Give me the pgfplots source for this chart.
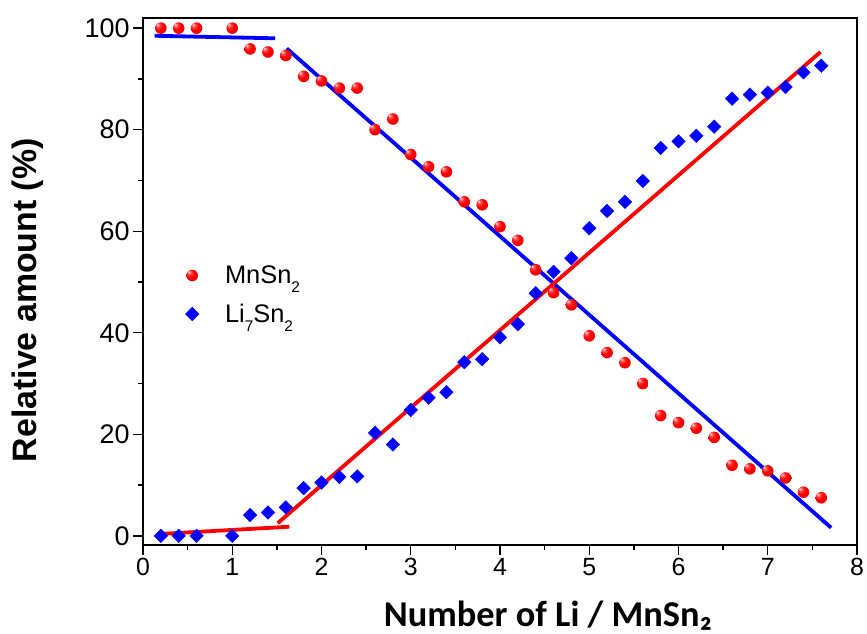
\documentclass[border=0pt]{standalone}
\usepackage{fontspec}
\setmainfont{Liberation Sans}
\newfontfamily\carlito{Carlito}
\usepackage{pgfplots}
\pgfplotsset{compat=1.18}
\newcommand\sub[1]{\raisebox{-8.5bp}{\fontsize{15.5}{15.5}\selectfont #1}}
\pgfdeclareradialshading{redball}{\pgfpoint{-16bp}{16bp}}{%
  color(0bp)=(red!10!white); color(8bp)=(red!70!white); color(18bp)=(red);
  color(42bp)=(red!92!black); color(50bp)=(red!80!black)}
\pgfdeclareplotmark{redsphere}{%
  \pgfpathcircle{\pgfpointorigin}{\pgfplotmarksize}%
  \pgfshadepath{redball}{0}%
  \pgfusepath{discard}}
\begin{document}
\begin{tikzpicture}
\useasboundingbox (-143bp,-89bp) rectangle (724bp,545bp);
\begin{axis}[
  at={(0,0)}, anchor=south west,
  width=714bp, height=527bp, scale only axis,
  xmin=0, xmax=8, ymin=-1.8, ymax=102,
  xtick={0,1,...,8}, ytick={0,20,...,100},
  minor tick num=1,
  tick align=outside, tick pos=left,
  major tick length=10bp, minor tick length=5bp,
  axis line style={line width=1.6bp},
  every tick/.style={black, line width=1.4bp},
  /pgf/number format/assume math mode=true,
  xticklabel style={font=\fontsize{25}{25}\selectfont},
  yticklabel style={font=\fontsize{27}{27}\selectfont},
  xlabel={\carlito\bfseries Number of Li / MnSn₂},
  ylabel={\bfseries Relative amount (\%)},
  xlabel style={font=\fontsize{36.5}{36.5}\selectfont, at={(axis description cs:0.567,-0.154)}, anchor=base},
  ylabel style={font=\fontsize{34}{34}\selectfont, at={(axis description cs:-0.1485,0.4645)}, anchor=base, rotate=0},
  legend style={at={(axis cs:0.44,54.0)}, anchor=north west, draw=none, fill=none,
    row sep=15bp, column sep=24bp},
  legend cell align=left,
  clip=false,
]
\addplot[only marks, mark=redsphere, mark size=5.8bp] coordinates {
(0.2,100) (0.4,100) (0.6,100) (1.0,100) (1.2,95.9) (1.4,95.3) (1.6,94.6) (1.8,90.5)
(2.0,89.6) (2.2,88.2) (2.4,88.2) (2.6,80.0) (2.8,82.1) (3.0,75.1) (3.2,72.7) (3.4,71.7)
(3.6,65.8) (3.8,65.2) (4.0,60.9) (4.2,58.2) (4.4,52.4) (4.6,47.9) (4.8,45.5) (5.0,39.4)
(5.2,36.1) (5.4,34.1) (5.6,30.0) (5.8,23.7) (6.0,22.3) (6.2,21.2) (6.4,19.4) (6.6,13.9)
(6.8,13.2) (7.0,12.8) (7.2,11.4) (7.4,8.6) (7.6,7.5)
};
\addlegendentry{\fontsize{25.5}{25.5}\selectfont MnSn\sub{2}}
\addplot[only marks, mark=square*, mark size=4.8bp, color=blue, mark options={fill=blue, draw=blue, rotate=45}] coordinates {
(0.2,0) (0.4,0) (0.6,0) (1.0,0) (1.2,4.1) (1.4,4.6) (1.6,5.6) (1.8,9.4)
(2.0,10.5) (2.2,11.6) (2.4,11.7) (2.6,20.3) (2.8,18.0) (3.0,24.8) (3.2,27.2) (3.4,28.3)
(3.6,34.2) (3.8,34.8) (4.0,39.1) (4.2,41.7) (4.4,47.8) (4.6,52.0) (4.8,54.7) (5.0,60.6)
(5.2,64.0) (5.4,65.8) (5.6,69.9) (5.8,76.4) (6.0,77.7) (6.2,78.8) (6.4,80.6) (6.6,86.1)
(6.8,86.9) (7.0,87.3) (7.2,88.4) (7.4,91.3) (7.6,92.6)
};
\addlegendentry{\fontsize{25.5}{25.5}\selectfont Li\sub{7}Sn\sub{2}}
\addplot[forget plot, blue, line width=3.8bp] coordinates {(0.13,98.5) (1.48,98.0)};
\addplot[forget plot, blue, line width=3.8bp] coordinates {(1.61,96.0) (7.71,1.6)};
\addplot[forget plot, red, line width=3.8bp] coordinates {(0.17,0.35) (1.64,1.8)};
\addplot[forget plot, red, line width=3.8bp] coordinates {(1.51,2.5) (7.59,95.3)};
\end{axis}
\end{tikzpicture}
\end{document}
